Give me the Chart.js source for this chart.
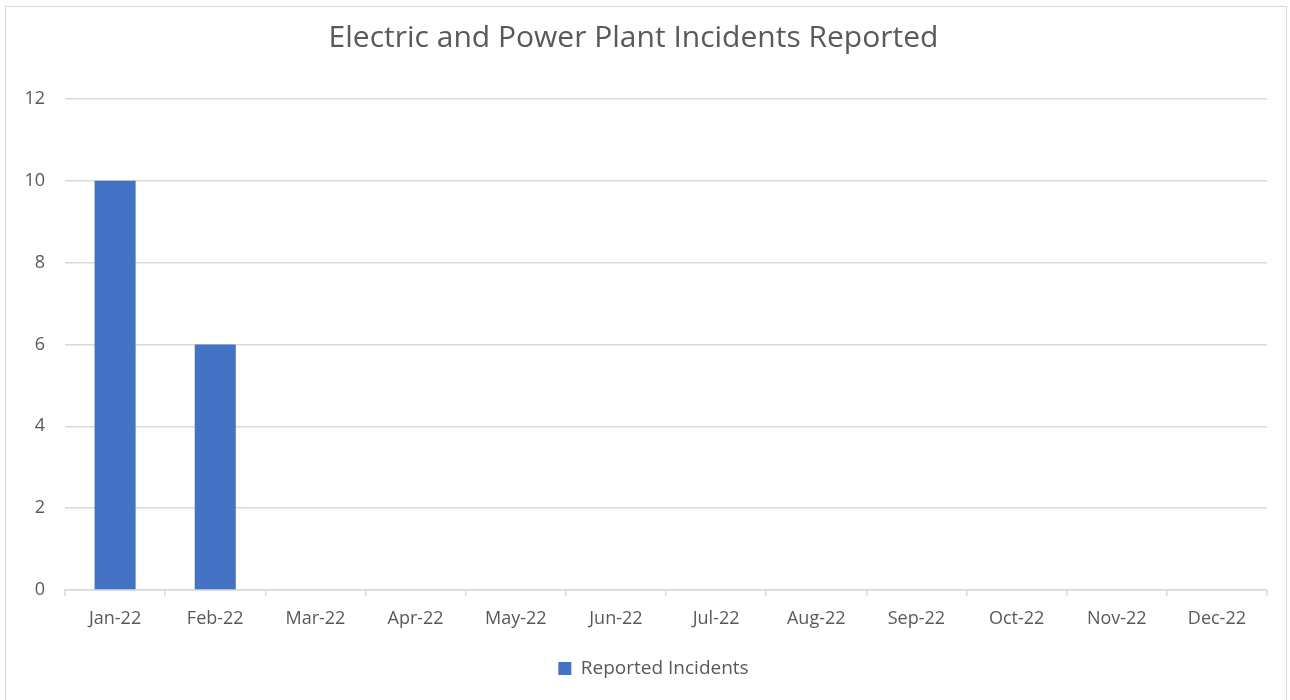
<!DOCTYPE html>
<html>
<head>
<meta charset="utf-8">
<script src="https://cdn.jsdelivr.net/npm/chart.js@4"></script>
<style>
body{margin:0;background:#fff;}
#wrap{position:relative;width:1290px;height:700px;}
#frame{position:absolute;left:5px;top:6px;width:1280px;height:720px;border:1.5px solid #d9d9d9;pointer-events:none;}
</style>
</head>
<body>
<div id="wrap">
<canvas id="myBarChart" width="1290" height="700"></canvas>
<div id="frame"></div>
</div>
<script>
const months = ['Jan-22','Feb-22','Mar-22','Apr-22','May-22','Jun-22','Jul-22','Aug-22','Sep-22','Oct-22','Nov-22','Dec-22'];
const incidents = [10, 6, 0, 0, 0, 0, 0, 0, 0, 0, 0, 0];
const seriesName = 'Reported Incidents';
const chartTitle = 'Electric and Power Plant Incidents Reported';

Chart.defaults.color = '#595959';
Chart.defaults.font.family = 'Open Sans';
Chart.defaults.font.size = 18;

// the legend in the original sits a bit right of centre
const legendShift = {
    id: 'legendShift',
    afterLayout(chart) {
        chart.legend.left += 20;
        chart.legend.right += 20;
    }
};

const tx = document.getElementById('myBarChart');

const barChart = new Chart(tx, {
    type: 'bar',
    data: {
        labels: months,
        datasets: [{
            label: seriesName,
            data: incidents,
            backgroundColor: '#4472C4',
            barPercentage: 0.41,
            categoryPercentage: 1
        }]
    },
    options: {
        responsive: false,
        animation: false,
        layout: {
            padding: {left: 0, right: 23, top: 0, bottom: 12}
        },
        plugins: {
            title: {
                display: true,
                text: chartTitle,
                color: '#595959',
                font: {size: 30, weight: 'normal'},
                padding: {top: 20, bottom: 43}
            },
            legend: {
                position: 'bottom',
                labels: {
                    boxWidth: 13,
                    boxHeight: 13,
                    padding: 10,
                    font: {size: 19}
                }
            },
            tooltip: {enabled: false}
        },
        scales: {
            x: {
                grid: {
                    drawOnChartArea: false,
                    tickLength: 6,
                    color: '#d9d9d9',
                    lineWidth: 1.5
                },
                border: {color: '#d9d9d9', width: 1.5},
                ticks: {padding: 12, font: {size: 18}},
                afterFit: (scale) => { scale.height = 59; }
            },
            y: {
                min: 0,
                max: 12,
                ticks: {stepSize: 2, padding: 20, font: {size: 18}},
                grid: {color: '#d9d9d9', lineWidth: 1.5, drawTicks: false},
                border: {display: false},
                afterFit: (scale) => { scale.width = 65; }
            }
        }
    },
    plugins: [legendShift]
});
</script>
</body>
</html>
